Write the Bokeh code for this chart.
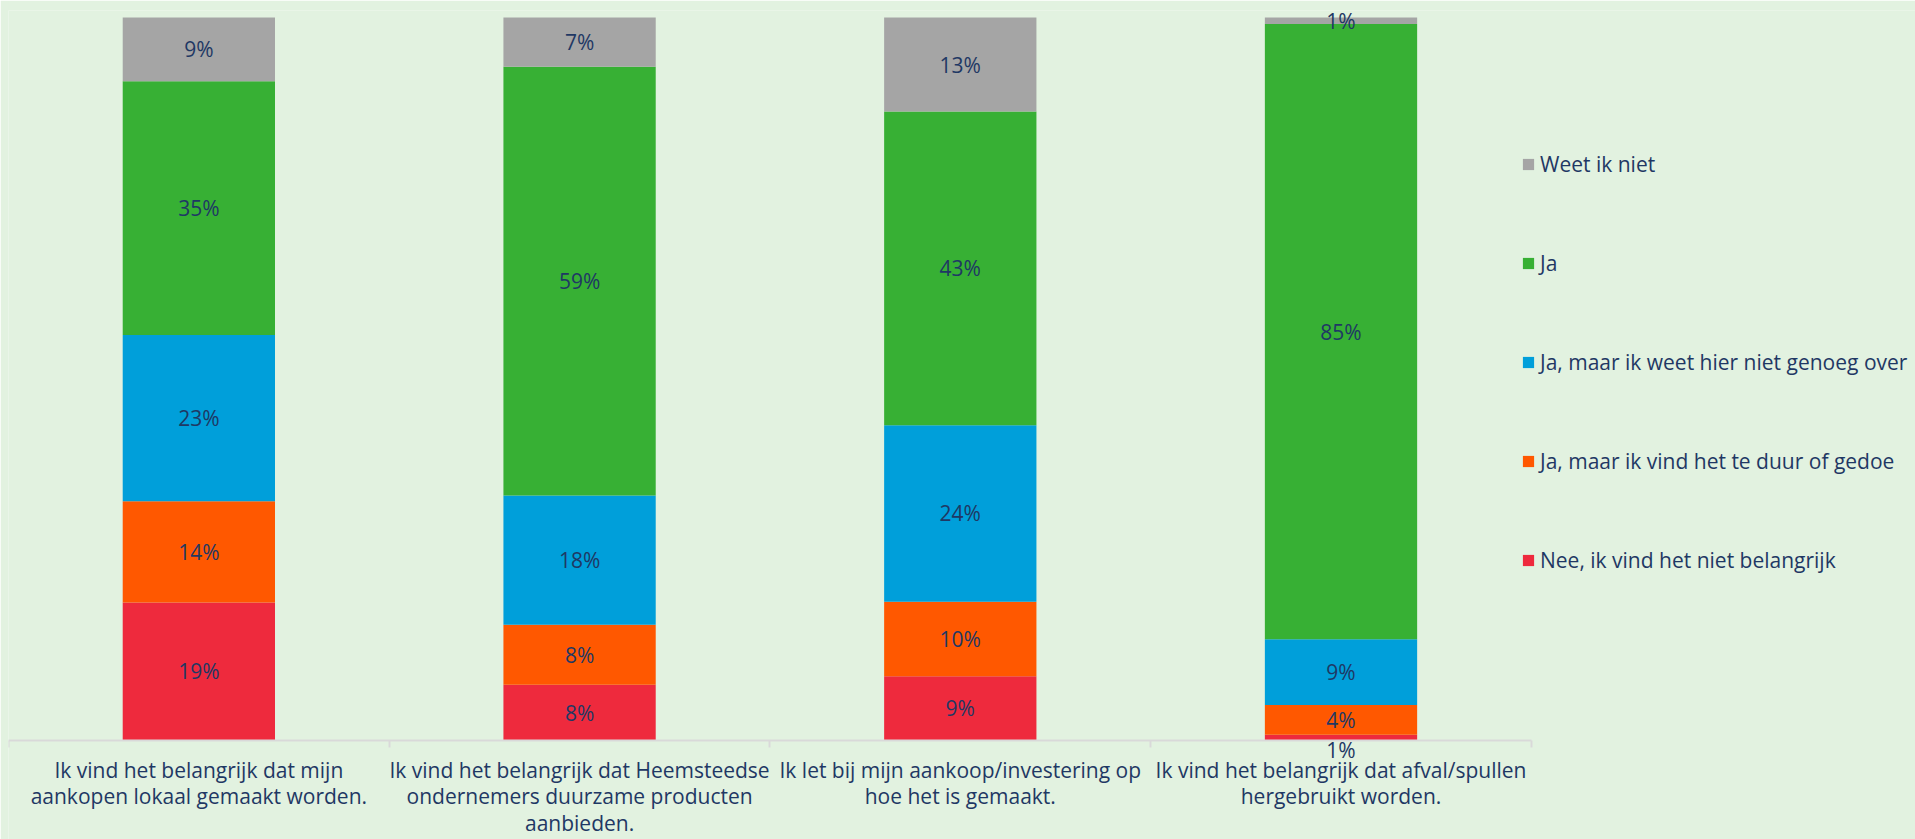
import numpy as np
from bokeh.plotting import figure
from bokeh.models import (ColumnDataSource, Range1d, FixedTicker, CustomJSTickFormatter,
                          Label, Legend, LegendItem)
from bokeh.embed import file_html
from bokeh.resources import INLINE

# ---------------- data ----------------
categories = [
    "Ik vind het belangrijk dat mijn\naankopen lokaal gemaakt worden.",
    "Ik vind het belangrijk dat Heemsteedse\nondernemers duurzame producten\naanbieden.",
    "Ik let bij mijn aankoop/investering op\nhoe het is gemaakt.",
    "Ik vind het belangrijk dat afval/spullen\nhergebruikt worden.",
]
series_names = [
    "Nee, ik vind het niet belangrijk",
    "Ja, maar ik vind het te duur of gedoe",
    "Ja, maar ik weet hier niet genoeg over",
    "Ja",
    "Weet ik niet",
]
nee = [19.1, 7.7, 8.9, 0.8]
duur = [14.0, 8.3, 10.3, 4.1]
genoeg = [23.0, 17.9, 24.4, 9.1]
ja = [35.1, 59.3, 43.4, 85.1]
weet_niet = [8.8, 6.8, 13.0, 0.9]

colors = ["#EE2A3D", "#FF5800", "#009FDA", "#37B034", "#A5A5A5"]
BG = "#E2F2E0"
TEXT = "#1F3864"
FONT = "Open Sans"

series = [nee, duur, genoeg, ja, weet_niet]
keys = ["nee", "duur", "genoeg", "ja", "weet"]
n = len(categories)
xs = np.arange(n) + 0.5

src = ColumnDataSource(dict(x=xs, **{k: v for k, v in zip(keys, series)}))

# frame spans the whole canvas below the top border; the category axis is pinned at y=0
p = figure(width=1915, height=839, output_backend="svg", toolbar_location=None,
           x_range=Range1d(0, 5.009), y_range=Range1d(-13.69, 100.97),
           min_border_left=8, min_border_right=0, min_border_top=10, min_border_bottom=0)
p.background_fill_color = BG
p.border_fill_color = BG
p.outline_line_color = None
p.grid.visible = False
p.yaxis.visible = False

rends = p.vbar_stack(keys, x="x", width=0.4, color=colors, source=src, line_width=0)

# data labels (centred in each segment; a tiny bottom segment gets its label just below the axis)
for j, vals in enumerate(series):
    base = np.sum(series[:j], axis=0) if j > 0 else np.zeros(n)
    for i in range(n):
        v = vals[i]
        if j == 0 and v < 2:
            y, yo = 0.0, -9
        else:
            y, yo = base[i] + v / 2, 0
        p.add_layout(Label(x=xs[i], y=y, y_offset=yo, text=f"{round(v):.0f}%",
                           text_align="center", text_baseline="middle",
                           text_font=FONT, text_font_size="21px", text_color=TEXT))

# x axis
ax = p.xaxis[0]
ax.fixed_location = 0
ax.ticker = FixedTicker(ticks=list(xs), minor_ticks=list(range(n + 1)))
ax.formatter = CustomJSTickFormatter(args=dict(cats=categories),
                                     code="return cats[Math.floor(tick)];")
ax.bounds = (0, n)
ax.axis_line_color = "#D9D9D9"
ax.axis_line_width = 2
ax.major_tick_line_color = None
ax.major_tick_in = 0
ax.major_tick_out = 7
ax.minor_tick_line_color = "#D9D9D9"
ax.minor_tick_line_width = 2
ax.minor_tick_in = 0
ax.minor_tick_out = 7
ax.major_label_standoff = 8
ax.major_label_text_font = FONT
ax.major_label_text_font_size = "21px"
ax.major_label_text_color = TEXT
ax.major_label_text_line_height = 0.95

# legend (top-to-bottom reverse of stacking)
items = [LegendItem(label=series_names[j], renderers=[rends[j]]) for j in reversed(range(len(series)))]
legend = Legend(items=items, location=(1513, 264), orientation="vertical",
                glyph_width=14, glyph_height=14, label_standoff=5,
                label_height=30, spacing=69, padding=0, margin=0,
                border_line_color=None, background_fill_alpha=0,
                label_text_font=FONT, label_text_font_size="21px", label_text_color=TEXT)
p.add_layout(legend, "center")

open("out.html", "w").write(file_html(p, INLINE))
